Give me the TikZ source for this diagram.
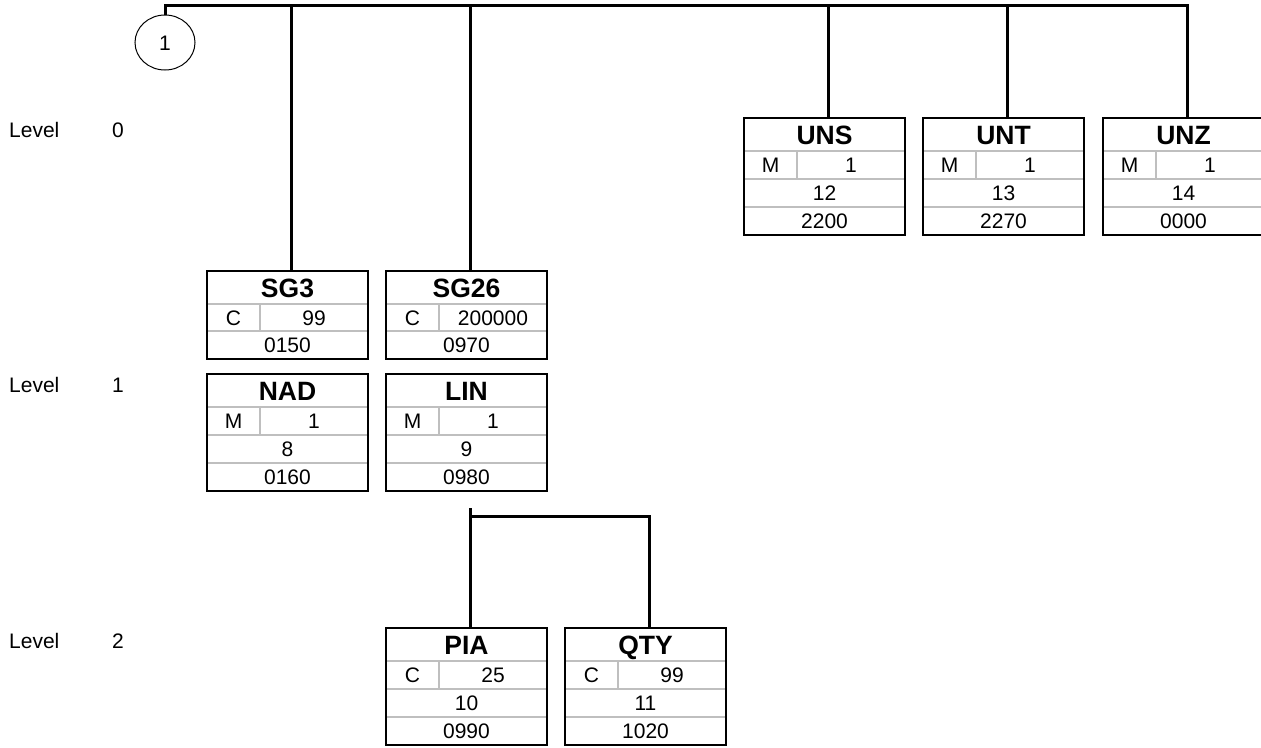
\documentclass[tikz,border=0pt]{standalone}
\usepackage{fontspec}
\setmainfont{Liberation Sans}
\usetikzlibrary{shapes.geometric}

% segment box: name, x, y, tag, status, repeat, position, number
\newcommand{\segbox}[8]{%
  \begin{scope}[shift={(#2,#3)}]
    \draw[rowline] (0,33) -- (161,33) (0,61) -- (161,61) (0,89) -- (161,89) (53,33) -- (53,61);
    \node[titletext] at (80.5,17) {#4};
    \node[celltext] at (26.5,47) {#5};
    \node[celltext] at (107,47) {#6};
    \node[celltext] at (80.5,75) {#7};
    \node[celltext] at (80.5,103) {#8};
  \end{scope}
  \node[frame, minimum height=117pt] (#1) at (#2,#3) {};
}
% group box: name, x, y, tag, status, repeat, position
\newcommand{\grpbox}[7]{%
  \begin{scope}[shift={(#2,#3)}]
    \draw[rowline] (0,33) -- (161,33) (0,60) -- (161,60) (53,33) -- (53,60);
    \node[titletext] at (80.5,17) {#4};
    \node[celltext] at (26.5,46.5) {#5};
    \node[celltext] at (107,46.5) {#6};
    \node[celltext] at (80.5,74) {#7};
  \end{scope}
  \node[frame, minimum height=88pt] (#1) at (#2,#3) {};
}

\begin{document}
\begin{tikzpicture}[x=1pt, y=-1pt,
    frame/.style={draw, line width=2pt, minimum width=161pt, inner sep=0pt, outer sep=0pt, anchor=north west},
    rowline/.style={draw=black!25, line width=1.5pt},
    titletext/.style={inner sep=0pt, text height=19pt, text depth=0pt, font=\fontsize{26.5}{30}\selectfont\bfseries},
    celltext/.style={inner sep=0pt, text height=15pt, text depth=0pt, font=\fontsize{21}{25}\selectfont},
    link/.style={line width=3pt}]
  \useasboundingbox (0,0) rectangle (1261,747);

  \foreach \l/\y in {0/130,1/385,2/641} {
    \node[celltext, anchor=west] (lvl\l) at (9,\y) {Level};
    \node[celltext] (num\l) at (118,\y) {\l};
  }

  \node[draw, ellipse, line width=1pt, minimum width=60pt, minimum height=55pt, inner sep=0pt,
        text height=15pt, text depth=0pt, font=\fontsize{21}{25}\selectfont] (conn) at (165,42.5) {1};

  \segbox{UNS}{744}{118}{UNS}{M}{1}{12}{2200}
  \segbox{UNT}{923}{118}{UNT}{M}{1}{13}{2270}
  \segbox{UNZ}{1103}{118}{UNZ}{M}{1}{14}{0000}
  \grpbox{SG3}{207}{271}{SG3}{C}{99}{0150}
  \grpbox{SG26}{386}{271}{SG26}{C}{200000}{0970}
  \segbox{NAD}{207}{374}{NAD}{M}{1}{8}{0160}
  \segbox{LIN}{386}{374}{LIN}{M}{1}{9}{0980}
  \segbox{PIA}{386}{628}{PIA}{C}{25}{10}{0990}
  \segbox{QTY}{565}{628}{QTY}{C}{99}{11}{1020}

  \coordinate (bus) at (165,5);
  \draw[link] (conn) -- (bus) -| ([xshift=4pt]UNZ.north);
  \foreach \b in {SG3,SG26,UNS,UNT}
    \draw[link] ([xshift=4pt]\b.north) -- ([xshift=4pt]\b.north |- bus);

  \draw[link] ([xshift=4pt,yshift=-17pt]LIN.south) -- ([xshift=4pt]PIA.north);
  \draw[link] ([xshift=4pt,yshift=-25pt]LIN.south) -| ([xshift=4pt]QTY.north);
\end{tikzpicture}
\end{document}
